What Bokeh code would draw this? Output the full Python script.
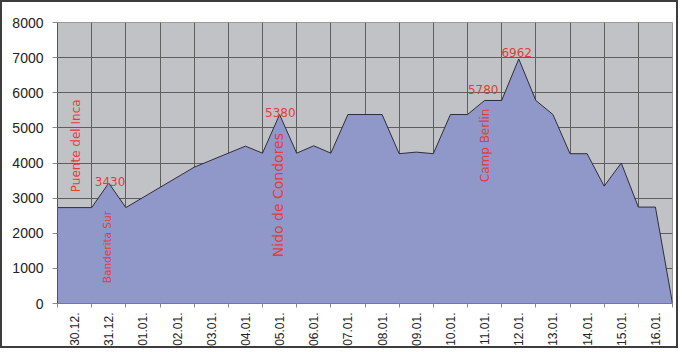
from math import pi
from bokeh.plotting import figure
from bokeh.models import FixedTicker, SingleIntervalTicker
from bokeh.core.properties import value
from bokeh.embed import file_html
from bokeh.resources import INLINE

# ---- data ----
dates = ["30.12.", "31.12.", "01.01.", "02.01.", "03.01.", "04.01.", "05.01.",
         "06.01.", "07.01.", "08.01.", "09.01.", "10.01.", "11.01.", "12.01.",
         "13.01.", "14.01.", "15.01.", "16.01."]
# position along the trip (1 unit = 1 day column) and altitude in m
day_pos = [0, 1, 1.5, 2, 4, 5.5, 6, 6.5, 7, 7.5, 8, 8.5, 9.5, 10, 10.5, 11,
           11.5, 12, 12.5, 13, 13.5, 14, 14.5, 15, 15.5, 16, 16.5, 17, 17.5, 18]
altitude = [2730, 2730, 3430, 2730, 3880, 4480, 4280, 5380, 4280, 4490, 4280,
            5380, 5380, 4265, 4310, 4265, 5380, 5380, 5780, 5780, 6962, 5780,
            5380, 4265, 4265, 3340, 4000, 2745, 2745, 0]

# place names (vertical labels)
place_names = ["Puente del Inca", "Banderita Sur", "Nido de Condores", "Camp Berlin"]
place_x = [0.55, 1.45, 6.44, 12.52]
place_y = [3170, 578, 1318, 3453]
place_size = ["12px", "10.5px", "14px", "12px"]

# peak altitude labels
peak_text = ["3430", "5380", "5780", "6962"]
peak_x = [1.54, 6.52, 12.46, 13.44]
peak_y = [3475, 5430, 6090, 7155]

RED = "#e43c3c"

p = figure(width=678, height=348, x_range=(0, 18), y_range=(0, 8000),
           output_backend="svg", toolbar_location=None,
           min_border_left=55, min_border_right=8, min_border_top=20,
           min_border_bottom=47)
p.styles = {"border": "2px solid #3d3d3d"}
p.background_fill_color = "#c1c2c6"
p.border_fill_color = "white"
p.outline_line_color = "#9a9a9a"

p.varea(x=day_pos, y1=[0] * len(day_pos), y2=altitude, fill_color="#8f98c9")
p.line(x=day_pos, y=altitude, line_color="#2e2e3a", line_width=1)

# x axis: labels centered in columns, ticks at column boundaries
centers = [i + 0.5 for i in range(len(dates))]
bounds = list(range(len(dates) + 1))
p.xaxis.ticker = FixedTicker(ticks=centers, minor_ticks=bounds)
p.xaxis.major_label_overrides = {c: d for c, d in zip(centers, dates)}
p.xaxis.major_label_orientation = pi / 2
p.xaxis.major_tick_line_color = None
p.xaxis.major_tick_in = 0
p.xaxis.major_tick_out = 0
p.xaxis.minor_tick_in = 0
p.xaxis.minor_tick_out = 4
p.xaxis.minor_tick_line_color = "#8a8a8a"
p.xaxis.major_label_standoff = 5
p.xaxis.major_label_text_font = "Liberation Sans"
p.xaxis.major_label_text_font_size = "12px"
p.xaxis.major_label_text_color = "#222222"
p.xaxis.axis_line_color = "#7a7a7a"

p.yaxis.ticker = SingleIntervalTicker(interval=1000)
p.yaxis.minor_tick_line_color = None
p.yaxis.major_tick_in = 0
p.yaxis.major_tick_out = 5
p.yaxis.major_tick_line_color = "#8a8a8a"
p.yaxis.major_label_standoff = 9
p.yaxis.major_label_text_font = "Liberation Sans"
p.yaxis.major_label_text_font_size = "14px"
p.yaxis.major_label_text_color = "#222222"
p.yaxis.axis_line_color = "#555555"

p.xgrid.ticker = FixedTicker(ticks=bounds)
p.xgrid.grid_line_color = "#5e5e5e"
p.ygrid.grid_line_color = "#5e5e5e"

for name, x, y, s in zip(place_names, place_x, place_y, place_size):
    p.text(x=[x], y=[y], text=[name], angle=pi / 2, text_align="left",
           text_baseline="middle", text_color=RED,
           text_font=value("DejaVu Sans"), text_font_size=s)

p.text(x=peak_x, y=peak_y, text=peak_text, text_align="center",
       text_baseline="alphabetic", text_color=RED,
       text_font=value("DejaVu Sans"), text_font_size="12px")

open("out.html", "w").write(file_html(p, INLINE))
